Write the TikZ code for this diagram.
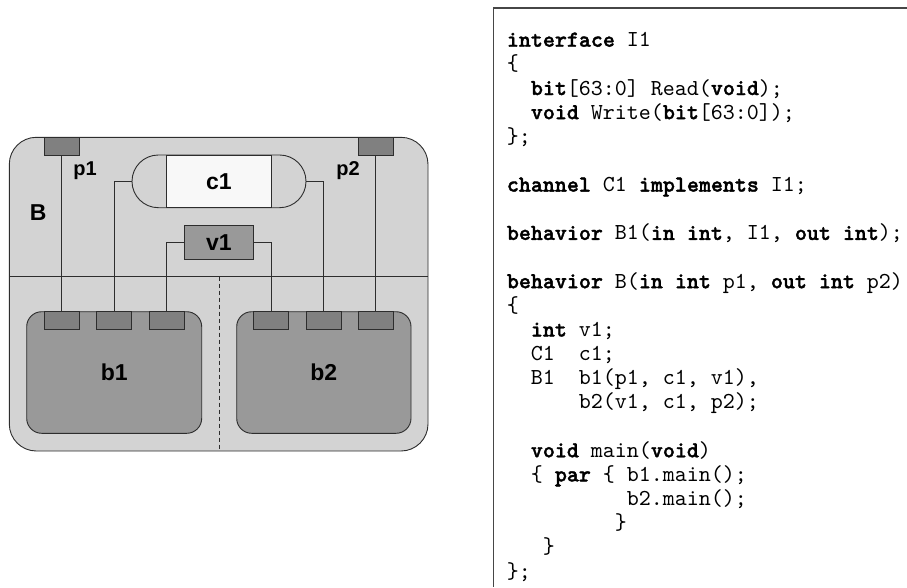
\documentclass[tikz,border=0pt]{standalone}
\usepackage{fontspec}
\setmainfont{Liberation Sans}
\newfontfamily\codefont{lmmono10-regular.otf}[BoldFont=lmmonolt10-bold.otf,BoldFeatures={FakeBold=1.6}]
\definecolor{shellgray}{RGB}{211,211,211}
\definecolor{blockgray}{RGB}{153,153,153}
\definecolor{portgray}{RGB}{128,128,128}
\definecolor{chanwhite}{RGB}{248,248,248}
\definecolor{edgegray}{RGB}{45,45,45}
\definecolor{framegray}{RGB}{70,70,70}
\newcommand\kw[1]{\textbf{#1}}
\newcommand\ind[1]{\hspace*{#1\dimexpr 12pt\relax}}
\begin{document}
\begin{tikzpicture}[x=1pt,y=-1pt,
  edge/.style={draw=edgegray,line width=0.9pt},
  shell/.style={edge,fill=shellgray,rounded corners=27pt},
  block/.style={edge,fill=blockgray,rounded corners=15pt,minimum width=175pt,minimum height=121.6pt,inner sep=0pt,
    font=\bfseries\fontsize{23}{27}\selectfont},
  port/.style={edge,fill=portgray,minimum width=35pt,minimum height=17.3pt,inner sep=0pt},
  wire/.style={draw=edgegray,line width=0.8pt},
  biglabel/.style={font=\bfseries\fontsize{23}{27}\selectfont,inner sep=0pt,anchor=base},
  portlabel/.style={font=\bfseries\fontsize{20}{24}\selectfont,inner sep=0pt,anchor=base},
  codeline/.style={anchor=base west,inner sep=0pt,font=\codefont\fontsize{22.86}{27}\selectfont}]
\useasboundingbox (0,0) rectangle (907,587);

% --- behavior B with its two halves ---
\draw[shell] (9.3,137.3) rectangle (428,451);
\draw[edge] (9.3,276.7) -- (428,276.7);
\draw[edge,dash pattern=on 4pt off 3pt,line width=0.7pt] (219.3,276.7) -- (219.3,451);

% ports of B
\node[port] (p1) at (61.8,146.35) {};
\node[port] (p2) at (375.8,146.35) {};

% channel c1
\node[edge,fill=shellgray,rounded corners=26.35pt,minimum width=174pt,minimum height=52.7pt,inner sep=0pt] (c1) at (219,181.35) {};
\node[edge,fill=chanwhite,minimum width=104.3pt,minimum height=52.7pt,inner sep=0pt,
  font=\bfseries\fontsize{23}{27}\selectfont] (c1core) at (218.85,181.35) {c1};

% variable v1
\node[edge,fill=blockgray,minimum width=69pt,minimum height=34pt,inner sep=0pt,
  font=\bfseries\fontsize{23}{27}\selectfont] (v1) at (218.8,242.3) {v1};

% child behaviors
\node[block] (b1) at (114.2,372.5) {b1};
\node[block,minimum width=174.3pt] (b2) at (323.85,372.5) {b2};

\node[port] (b1a) at (61.8,320.35) {};
\node[port] (b1b) at (114.2,320.35) {};
\node[port] (b1c) at (166.8,320.35) {};
\node[port] (b2a) at (271.35,320.35) {};
\node[port] (b2b) at (323.5,320.35) {};
\node[port] (b2c) at (375.8,320.35) {};

% connections
\draw[wire] (p1.south) -- (b1a.north);
\draw[wire] (c1.west) -| (b1b.north);
\draw[wire] (v1.west) -| (b1c.north);
\draw[wire] (v1.east) -| (b2a.north);
\draw[wire] (c1.east) -| (b2b.north);
\draw[wire] (p2.south) -- (b2c.north);

% labels
\node[biglabel] (labB) at (38.3,220) {B};
\node[portlabel] (labp1) at (85,175) {p1};
\node[portlabel] (labp2) at (348,175) {p2};

% --- code listing ---
\draw[draw=framegray,line width=1.3pt] (907,8) -- (493.3,8) -- (493.3,587);
\foreach \n/\txt in {
  0/{\kw{interface} I1},
  1/{\{},
  2/{\ind{2}\kw{bit}[63:0] Read(\kw{void});},
  3/{\ind{2}\kw{void} Write(\kw{bit}[63:0]);},
  4/{\};},
  6/{\kw{channel} C1 \kw{implements} I1;},
  8/{\kw{behavior} B1(\kw{in int}, I1, \kw{out int});},
  10/{\kw{behavior} B(\kw{in int} p1, \kw{out int} p2)},
  11/{\{},
  12/{\ind{2}\kw{int} v1;},
  13/{\ind{2}C1\ind{2}c1;},
  14/{\ind{2}B1\ind{2}b1(p1, c1, v1),},
  15/{\ind{6}b2(v1, c1, p2);},
  17/{\ind{2}\kw{void} main(\kw{void})},
  18/{\ind{2}\{ \kw{par} \{ b1.main();},
  19/{\ind{10}b2.main();},
  20/{\ind{9}\}},
  21/{\ind{3}\}},
  22/{\};}}
  \node[codeline] (code\n) at (506.7,46.7+24.15*\n) {\txt};
\end{tikzpicture}
\end{document}
